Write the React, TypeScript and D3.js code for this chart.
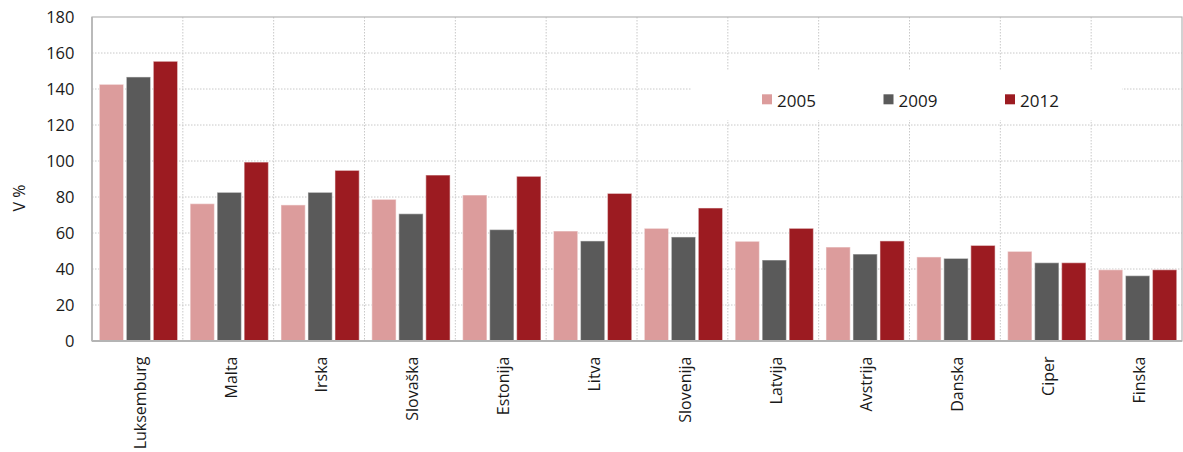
import React from "react";
import * as d3 from "d3";

const categories = ["Luksemburg", "Malta", "Irska", "Slovaška", "Estonija", "Litva", "Slovenija", "Latvija", "Avstrija", "Danska", "Ciper", "Finska"];
const years = ["2005", "2009", "2012"];
const values2005 = [142.6, 76.3, 75.6, 78.7, 81.1, 61.1, 62.6, 55.4, 52.2, 46.7, 49.8, 39.6];
const values2009 = [146.7, 82.6, 82.6, 70.7, 61.9, 55.6, 57.8, 45.0, 48.3, 45.9, 43.5, 36.3];
const values2012 = [155.4, 99.4, 94.8, 92.2, 91.5, 82.0, 73.9, 62.6, 55.6, 53.1, 43.5, 39.6];
const yTicks = [0, 20, 40, 60, 80, 100, 120, 140, 160, 180];
const colors = ["#dc9c9c", "#5a5a5a", "#9c1b21"];
const seriesValues = [values2005, values2009, values2012];

const W = 1183;
const H = 452;
const L = 92;
const R = 1182;
const T = 17;
const B = 341;
const FONT = "'Open Sans', 'Noto Sans', sans-serif";

export default function App() {
  const x0 = d3.scaleBand<string>().domain(categories).range([L, R]).padding(0);
  const x1 = d3.scaleBand<string>().domain(years).range([7.3, 85.6]).paddingInner(0.1);
  const y = d3.scaleLinear().domain([0, 180]).range([B, T]);
  const bw = x0.bandwidth();

  return (
    <div style={{ position: "absolute", left: 0, top: 0 }}>
      <svg width={W} height={H} style={{ display: "block", background: "#fff" }} fontFamily={FONT}>
        {/* horizontal grid */}
        {yTicks.filter((t) => t > 0 && t < 180).map((t) => (
          <line key={"h" + t} x1={L} x2={R} y1={y(t)} y2={y(t)} stroke="#c8c8c8" strokeWidth={1} strokeDasharray="1.5,1.5" />
        ))}
        {/* vertical grid */}
        {categories.slice(1).map((c) => (
          <line key={"v" + c} x1={x0(c)!} x2={x0(c)!} y1={T} y2={B} stroke="#c8c8c8" strokeWidth={1} strokeDasharray="1.5,1.5" />
        ))}
        {/* legend background */}
        <rect x={692} y={70} width={430} height={50} fill="#fff" />
        {/* bars */}
        {categories.map((c, i) => (
          <g key={c} transform={`translate(${x0(c)},0)`}>
            {years.map((yr, j) => {
              const v = seriesValues[j][i];
              return (
                <rect
                  key={yr}
                  x={x1(yr)!}
                  y={y(v)}
                  width={x1.bandwidth()}
                  height={y(0) - y(v)}
                  fill={colors[j]}
                  stroke="rgba(255,255,255,0.45)"
                  strokeWidth={1.2}
                />
              );
            })}
          </g>
        ))}
        {/* frame */}
        <rect x={L} y={T} width={R - L} height={B - T} fill="none" stroke="#b4b4b4" strokeWidth={1.2} />
        <line x1={L} x2={R} y1={B} y2={B} stroke="#b4b4b4" strokeWidth={2} />
        <line x1={L} x2={L} y1={T} y2={B} stroke="#b4b4b4" strokeWidth={1.6} />
        {/* y ticks */}
        {yTicks.map((t) => (
          <text key={"t" + t} x={74.5} y={y(t)} dy="0.36em" textAnchor="end" fontSize={16.5} fill="#1a1a1a">
            {t}
          </text>
        ))}
        <text transform={`translate(19,198) rotate(-90)`} dy="0.36em" textAnchor="middle" fontSize={16} fill="#1a1a1a">
          V %
        </text>
        {/* x labels */}
        {categories.map((c) => (
          <text
            key={"l" + c}
            transform={`translate(${x0(c)! + bw / 2 + 8.3},356.5) rotate(-90)`}
            textAnchor="end"
            fontSize={16}
            fill="#1a1a1a"
          >
            {c}
          </text>
        ))}
        {/* legend */}
        {years.map((yr, j) => (
          <g key={"lg" + yr} transform={`translate(${762 + j * 121.5},0)`}>
            <rect x={0} y={94.3} width={10} height={10} fill={colors[j]} />
            <text x={15} y={107.3} fontSize={17} fill="#1a1a1a">
              {yr}
            </text>
          </g>
        ))}
      </svg>
    </div>
  );
}
